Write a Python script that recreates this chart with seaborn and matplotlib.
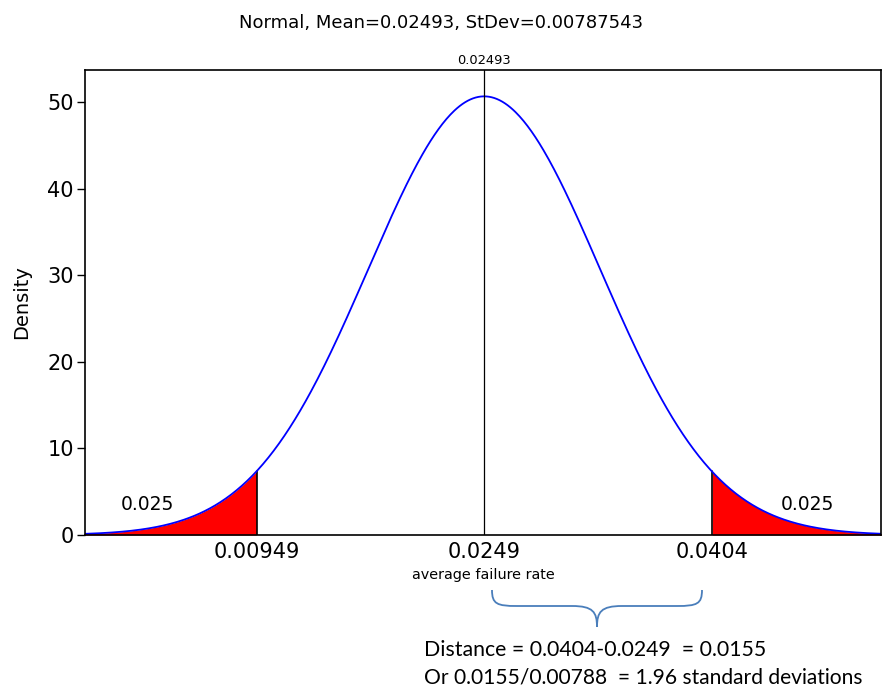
import numpy as np
import pandas as pd
import matplotlib
matplotlib.use("Agg")
import matplotlib.pyplot as plt
from matplotlib.path import Path
from matplotlib.patches import PathPatch
import seaborn as sns

# ------------------------------
# Chart data
# ------------------------------
mean = 0.02493
stdev = 0.00787543
tail_cuts = [0.00949, 0.0404]          # 2.5% / 97.5% points
tail_area_labels = ["0.025", "0.025"]
x_ticks = [0.00949, 0.0249, 0.0404]
x_tick_labels = ["0.00949", "0.0249", "0.0404"]
y_ticks = [0, 10, 20, 30, 40, 50]
x_range = [-0.0022, 0.0519]
y_range = [0, 53.7]

sns.set_style("white")
plt.rcParams["font.family"] = ["DejaVu Sans"]
for k in ("text.color", "axes.labelcolor", "xtick.color", "ytick.color"):
    plt.rcParams[k] = "black"

# density curve of the stated normal distribution
xs = np.linspace(x_range[0], x_range[1], 600)
dens = np.exp(-0.5 * ((xs - mean) / stdev) ** 2) / (stdev * np.sqrt(2 * np.pi))
df = pd.DataFrame({"x": xs, "density": dens})

fig = plt.figure(figsize=(8.82, 6.89), dpi=100)
ax = fig.add_axes([85 / 882, 1 - 535 / 689, 796 / 882, 465 / 689])

# red tails
lo, hi = tail_cuts
left = df[df["x"] <= lo]
right = df[df["x"] >= hi]
ax.fill_between(left["x"], 0, left["density"], color="#ff0000", linewidth=0)
ax.fill_between(right["x"], 0, right["density"], color="#ff0000", linewidth=0)
for c in tail_cuts:
    d = np.exp(-0.5 * ((c - mean) / stdev) ** 2) / (stdev * np.sqrt(2 * np.pi))
    ax.plot([c, c], [0, d], color="black", lw=1.2)

sns.lineplot(data=df, x="x", y="density", ax=ax, color="#0000ff", lw=1.3)

# mean reference line
ax.axvline(mean, color="black", lw=0.9)
ax.text(mean, 1.006, f"{mean:.5f}", transform=ax.get_xaxis_transform(),
        ha="center", va="bottom", fontsize=9.4)

ax.set_xlim(*x_range)
ax.set_ylim(*y_range)
ax.set_xticks(x_ticks)
ax.set_xticklabels(x_tick_labels, fontsize=15)
ax.set_yticks(y_ticks)
ax.tick_params(axis="y", length=6, width=1, direction="out", labelsize=15, left=True, pad=2)
ax.tick_params(axis="x", length=0, pad=5)
ax.set_xlabel("average failure rate", fontsize=10.4, labelpad=4)
ax.set_ylabel("Density", fontsize=14, labelpad=12)
for s in ax.spines.values():
    s.set_color("black")
    s.set_linewidth(1.2)

# tail area labels
ax.text(0.00206, 3.5, tail_area_labels[0], fontsize=13.5, ha="center", va="center")
ax.text(0.04693, 3.5, tail_area_labels[1], fontsize=13.5, ha="center", va="center")

fig.suptitle(f"Normal, Mean={mean}, StDev={stdev}", y=0.98, fontsize=13)

# curly brace under the axis between mean and upper cut
def px(x, y):
    return (x / 882, 1 - y / 689)

x0, x1, xm = 492, 702, 597
ytop, ymid, ytip = 590, 606, 627
codes = [Path.MOVETO, Path.CURVE4, Path.CURVE4, Path.CURVE4,
         Path.LINETO, Path.CURVE4, Path.CURVE4, Path.CURVE4]
verts = [px(x0, ytop), px(x0, ymid - 2), px(x0 + 5, ymid), px(x0 + 25, ymid),
         px(xm - 25, ymid), px(xm - 4, ymid), px(xm, ymid + 6), px(xm, ytip)]
verts2 = [px(x1, ytop), px(x1, ymid - 2), px(x1 - 5, ymid), px(x1 - 25, ymid),
          px(xm + 25, ymid), px(xm + 4, ymid), px(xm, ymid + 6), px(xm, ytip)]
for v in (verts, verts2):
    fig.patches.append(PathPatch(Path(v, codes), transform=fig.transFigure,
                                 fill=False, edgecolor="#4a7ebb", lw=1.3))

note_font = ["Lato", "DejaVu Sans"]
fig.text(424 / 882, 1 - 650 / 689, "Distance = 0.0404-0.0249  = 0.0155",
         fontsize=15.3, family=note_font, va="center", ha="left")
fig.text(424 / 882, 1 - 677 / 689, "Or 0.0155/0.00788  = 1.96 standard deviations",
         fontsize=15.1, family=note_font, va="center", ha="left")

fig.savefig("out.png", dpi=100)
